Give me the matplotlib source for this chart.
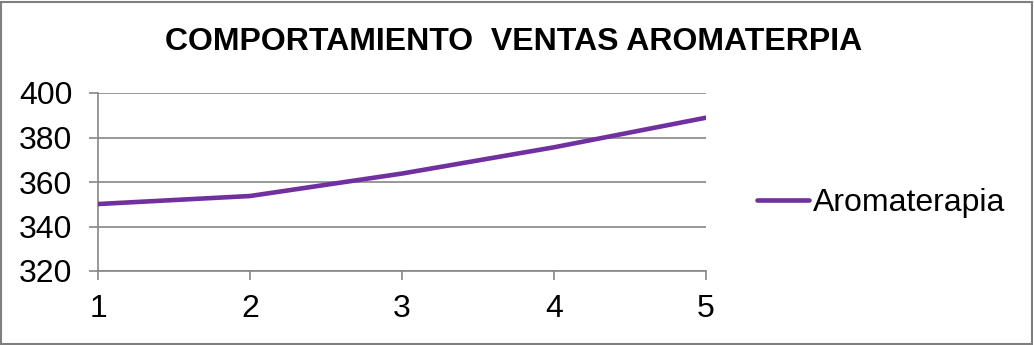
import matplotlib
matplotlib.use("Agg")
import matplotlib.pyplot as plt
from matplotlib.patches import Rectangle

# Sales data per period
periods = [1, 2, 3, 4, 5]
ventas = [350.1, 353.7, 363.8, 375.6, 388.9]
serie = "Aromaterapia"
titulo = "COMPORTAMIENTO  VENTAS AROMATERPIA"
y_ticks = [320, 340, 360, 380, 400]

plt.rcParams['font.family'] = ['Liberation Sans', 'DejaVu Sans']

fig = plt.figure(figsize=(10.34, 3.45), dpi=100)
ax = fig.add_axes([98/1034, 1 - 271/345, (706 - 98)/1034, (271 - 93)/345])

grid_color = "#868686"
ax.plot(periods, ventas, color="#7030A0", lw=3.3, solid_capstyle="round",
        label=serie, zorder=3)

ax.set_xlim(1, 5)
ax.set_ylim(320, 400)
ax.set_xticks(periods)
ax.set_yticks(y_ticks)
ax.yaxis.grid(True, color=grid_color, lw=1.2)
ax.set_axisbelow(True)

for side in ("top", "right"):
    ax.spines[side].set_visible(False)
for side in ("left", "bottom"):
    ax.spines[side].set_color(grid_color)
    ax.spines[side].set_linewidth(1.2)

ax.tick_params(axis="both", colors=grid_color, length=6.5, width=1.2,
               labelcolor="black", labelsize=23)
ax.tick_params(axis="x", pad=10)
ax.tick_params(axis="y", pad=12)

fig.text(514/1034, 1 - 42/345, titulo, ha="center", va="center",
         fontsize=23, fontweight="bold")

leg = fig.legend(loc="center left", bbox_to_anchor=(744/1034, 1 - 203/345),
                 frameon=False, fontsize=23, handlelength=1.65,
                 handletextpad=0.1, borderaxespad=0)

fig.patches.append(Rectangle((1/1034, 1/345), 1 - 3/1034, 1 - 3/345,
                             transform=fig.transFigure, fill=False,
                             edgecolor="#7f7f7f", lw=1.5))

fig.savefig("out.png", dpi=100)
